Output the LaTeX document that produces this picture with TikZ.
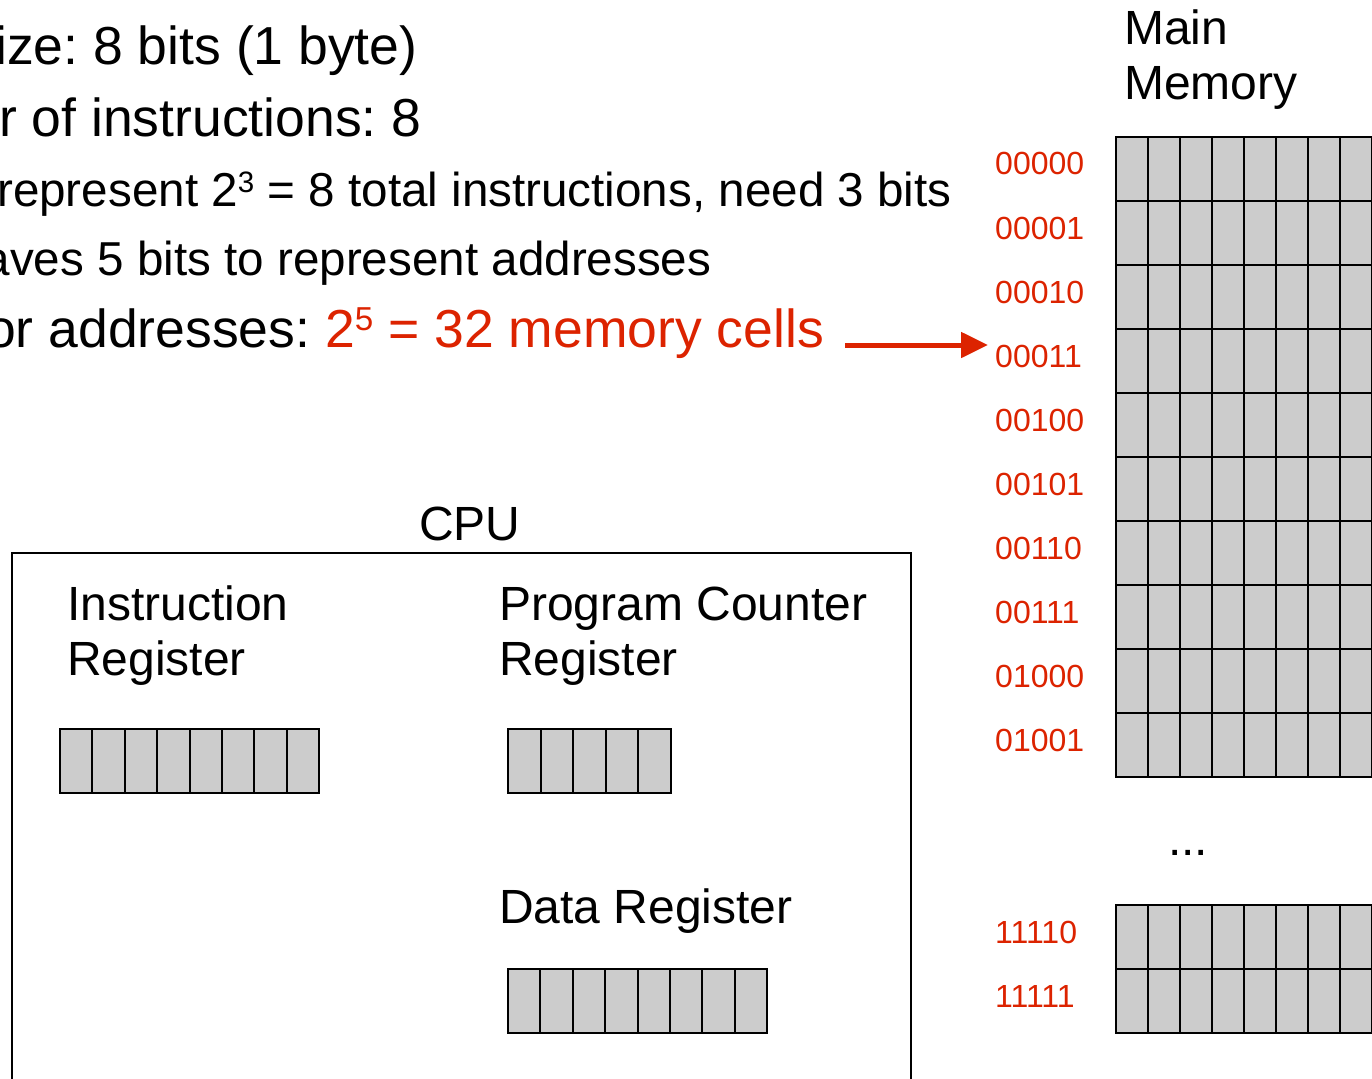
\documentclass[tikz,border=0pt]{standalone}
\usepackage{fontspec}
\setmainfont{Liberation Sans}
\usetikzlibrary{arrows.meta}
\definecolor{hlred}{RGB}{220,35,0}
\definecolor{cellgray}{RGB}{204,204,204}
\newcommand{\fsz}[1]{\fontsize{#1}{#1}\selectfont}
% superscript at about 62% of the surrounding size
\newcommand{\supr}[1]{\raisebox{0.3em}{\scalebox{0.62}{#1}}}
\tikzset{
  toptext/.style={anchor=base west, inner sep=0pt, font=\fsz{53.5}},
  subtext/.style={anchor=base west, inner sep=0pt, font=\fsz{47.6}},
  labeltext/.style={anchor=base west, inner sep=0pt, font=\fsz{48}},
  addr/.style={anchor=base west, inner sep=0pt, font=\fsz{32}, text=hlred},
  cell/.style={draw=black, fill=cellgray, line width=2pt},
  frame/.style={draw=black, line width=2pt},
  pointer/.style={draw=hlred, line width=5pt, -{Triangle[length=27pt,width=25pt]}}
}
\begin{document}
\frenchspacing
\begin{tikzpicture}[x=1pt, y=-1pt]
\useasboundingbox (0,0) rectangle (1372,1078);
\clip (0,0) rectangle (1372,1078);

% explanatory text lines
\node[toptext] (l1) at (-5,65) {ize: 8 bits (1 byte)};
\node[toptext] (l2) at (-1,137) {r of instructions: 8};
\node[subtext] (l3) at (-3,207) {represent 2\supr{3} = 8 total instructions, need 3 bits};
\node[subtext] (l4) at (-16.5,275) {aves 5 bits to represent addresses};
\node[toptext] (l5) at (-14,347) {or addresses: \textcolor{hlred}{2\supr{5} = 32 memory cells}};

% main memory
\node[labeltext] (mmtitle) at (1124,45) {Main};
\node[labeltext] (mmtitle2) at (1124,100) {Memory};

\foreach \r in {0,...,9} {
  \foreach \c in {0,...,8} {
    \draw[cell] (1116+32*\c,137+64*\r) rectangle ++(32,64);
  }
}
\foreach \r in {0,1} {
  \foreach \c in {0,...,8} {
    \draw[cell] (1116+32*\c,905+64*\r) rectangle ++(32,64);
  }
}
\foreach \lab [count=\i from 0] in {00000,00001,00010,00011,00100,00101,00110,00111,01000,01001} {
  \node[addr] (a\lab) at (995,175+64*\i) {\lab};
}
\node[addr] (a11110) at (995,943) {11110};
\node[addr] (a11111) at (995,1007) {11111};
\node[labeltext] (dots) at (1168,855) {...};

% arrow to the address cell
\coordinate (arrstart) at (845,345);
\coordinate (arrend) at (988,345);
\draw[pointer] (arrstart) -- (arrend);

% CPU
\node[labeltext] (cpu) at (419,540) {CPU};
\draw[frame] (12,1090) -- (12,553) -- (911,553) -- (911,1090);

\node[labeltext] (ir1) at (67,620) {Instruction};
\node[labeltext] (ir2) at (67,675) {Register};
\node[labeltext] (pc1) at (499,620) {Program Counter};
\node[labeltext] (pc2) at (499,675) {Register};
\node[labeltext] (dr) at (499,923) {Data Register};

\foreach \c in {0,...,7} {
  \draw[cell] (60+32.4*\c,729) rectangle ++(32.4,64);
  \draw[cell] (508+32.4*\c,969) rectangle ++(32.4,64);
}
\foreach \c in {0,...,4} {
  \draw[cell] (508+32.6*\c,729) rectangle ++(32.6,64);
}
\end{tikzpicture}
\end{document}
